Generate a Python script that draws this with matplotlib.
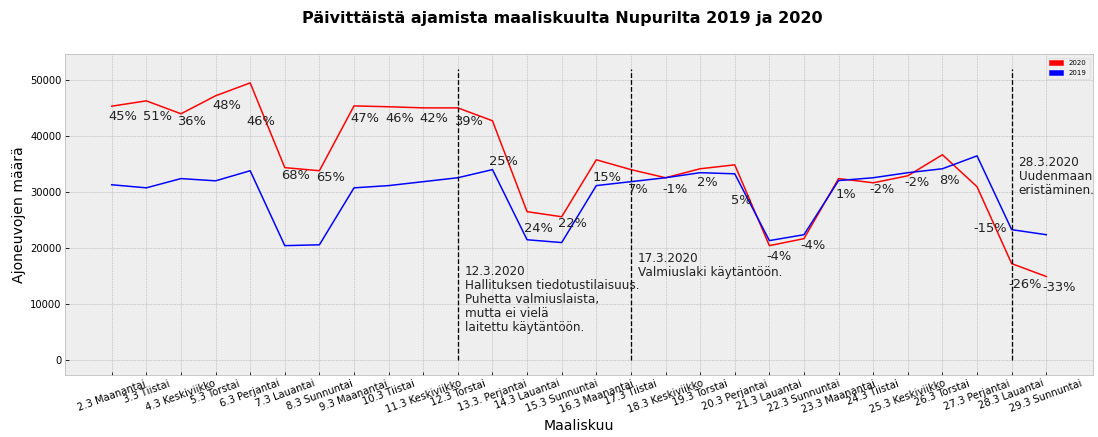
import matplotlib
matplotlib.use("Agg")
import matplotlib.pyplot as plt
import matplotlib.patches as mpatches

plt.style.use("bmh")
plt.rcParams['font.family'] = ['DejaVu Sans']

days = ["2.3 Maanantai", "3.3 Tiistai", "4.3 Keskiviikko", "5.3 Torstai", "6.3 Perjantai",
        "7.3 Lauantai", "8.3 Sunnuntai", "9.3 Maanantai", "10.3 Tiistai", "11.3 Keskiviikko",
        "12.3 Torstai", "13.3. Perjantai", "14.3 Lauantai", "15.3 Sunnuntai", "16.3 Maanantai",
        "17.3 Tiistai", "18.3 Keskiviikko", "19.3 Torstai", "20.3 Perjantai", "21.3 Lauantai",
        "22.3 Sunnuntai", "23.3 Maanantai", "24.3 Tiistai", "25.3 Keskiviikko", "26.3 Torstai",
        "27.3 Perjantai", "28.3 Lauantai", "29.3 Sunnuntai"]

values_2020 = [45300, 46250, 43950, 47150, 49450, 34350, 33800, 45350, 45200, 45000,
               45000, 42700, 26500, 25600, 35750, 34000, 32550, 34150, 34850, 20450,
               21700, 32400, 31650, 32900, 36650, 30950, 17250, 14950]

values_2019 = [31300, 30750, 32400, 32000, 33800, 20450, 20600, 30750, 31150, 31850,
               32550, 34000, 21500, 21000, 31150, 31850, 32550, 33450, 33250, 21350,
               22400, 32050, 32550, 33450, 34150, 36450, 23300, 22400]

pct_labels = ["45%", "51%", "36%", "48%", "46%", "68%", "65%", "47%", "46%", "42%",
              "39%", "25%", "24%", "22%", "15%", "7%", "-1%", "2%", "5%", "-4%",
              "-4%", "1%", "-2%", "-2%", "8%", "-15%", "-26%", "-33%"]

# baseline heights of the percentage labels
pct_label_y = [42870, 42870, 41860, 44830, 41860, 32380, 31900, 42570, 42570, 42570,
               41860, 34870, 22950, 23840, 31900, 29890, 29890, 31010, 27930, 17970,
               19920, 29000, 29890, 31010, 31490, 22950, 12990, 12450]

event_idx = [10, 15, 26]
event_texts = ["12.3.2020\nHallituksen tiedotustilaisuus.\nPuhetta valmiuslaista,\nmutta ei vielä\nlaitettu käytäntöön.",
               "17.3.2020\nValmiuslaki käytäntöön.",
               "28.3.2020\nUudenmaan\neristäminen."]
event_text_y = [17000, 19400, 36500]

fig = plt.figure(figsize=(1098 / 72, 437 / 72), dpi=72)
ax = fig.add_axes([65 / 1098, 1 - 375 / 437, (1093 - 65) / 1098, (375 - 54) / 437])

x = list(range(len(days)))
ax.plot(x, values_2020, color="red", linewidth=1.5)
ax.plot(x, values_2019, color="blue", linewidth=1.5)

for i in x:
    ax.text(i - 0.1, pct_label_y[i], pct_labels[i], fontsize=13, ha="left", va="baseline",
            color="#222222")

for idx, txt, ty in zip(event_idx, event_texts, event_text_y):
    ax.vlines(idx, 0, 52000, colors="black", linestyles="--", linewidth=1.3)
    ax.text(idx + 0.2, ty, txt, fontsize=12, ha="left", va="top", color="#222222",
            linespacing=1.1)

ax.set_xticks(x)
ax.set_xticklabels(days, rotation=20, fontsize=10)
ax.tick_params(axis="y", labelsize=10)
ax.set_ylabel("Ajoneuvojen määrä", fontsize=14)
ax.set_xlabel("Maaliskuu", fontsize=14)

handles = [mpatches.Patch(color="red", label="2020"), mpatches.Patch(color="blue", label="2019")]
ax.legend(handles=handles, loc="upper right", fontsize=7)

fig.text(562 / 1098, 1 - 19 / 437, "Päivittäistä ajamista maaliskuulta Nupurilta 2019 ja 2020",
         fontsize=16, fontweight="bold", ha="center", va="center")

fig.savefig("out.png", dpi=72)
